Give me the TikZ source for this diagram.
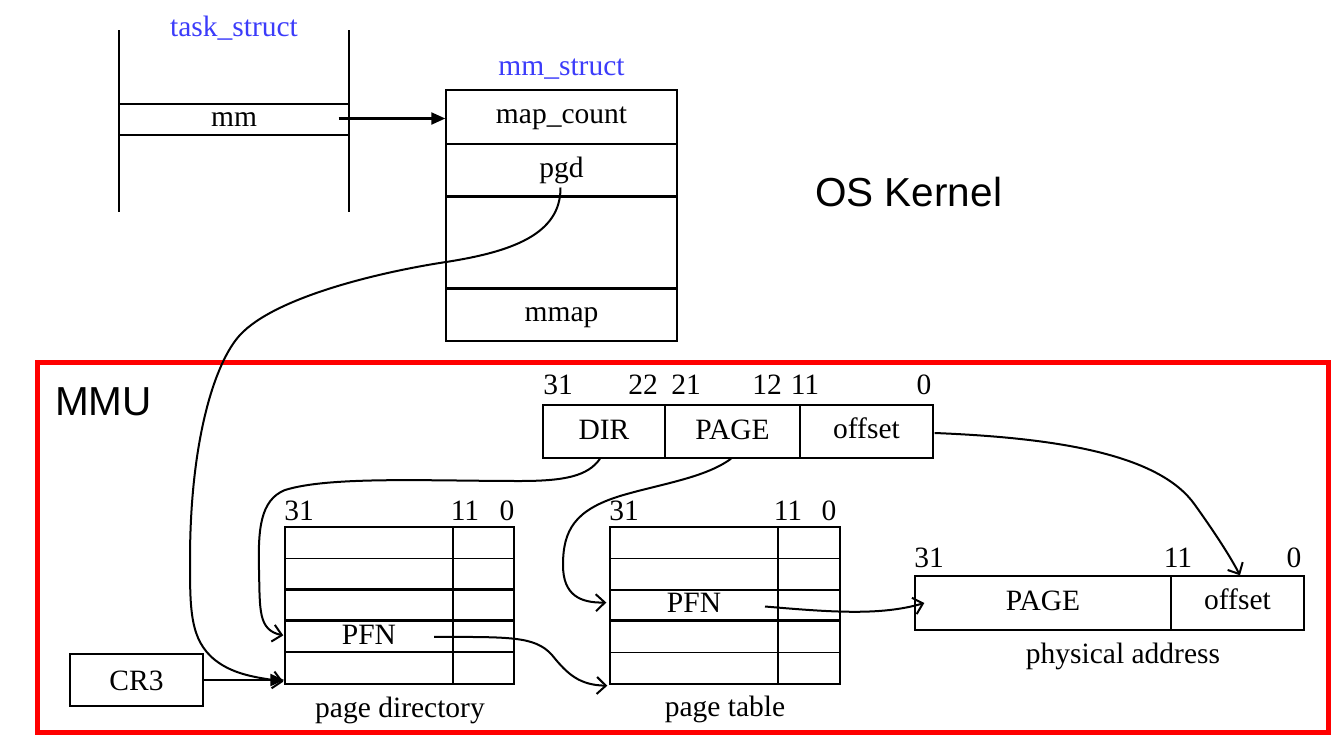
\documentclass[tikz,border=0pt]{standalone}
\usepackage{fontspec}
\setmainfont{Liberation Serif}
\newfontfamily\sansfam{Liberation Sans}
\usetikzlibrary{arrows.meta,calc}
\definecolor{lblblue}{RGB}{60,60,250}
\definecolor{mmured}{RGB}{255,0,0}
\begin{document}
\begin{tikzpicture}[x=1pt,y=-1pt,
  font=\fontsize{29.5}{34}\selectfont,
  box/.style={draw,line width=1.4pt,inner sep=0pt,text height=20pt,text depth=6.5pt},
  txt/.style={inner sep=0pt,text height=20pt,text depth=6.5pt},
  lbl/.style={anchor=base,inner sep=0pt},
  biglbl/.style={anchor=base west,inner sep=0pt,font=\sansfam\fontsize{40.5}{48}\selectfont},
  conn/.style={line width=2pt,-{Straight Barb[length=9pt,width=17pt,line width=2pt]}},
  fconn/.style={line width=2.2pt,-{Triangle[length=14pt,width=12pt]}},
  thickrule/.style={line width=2.6pt}]
\useasboundingbox (0,0) rectangle (1336,750);

% ---- task_struct
\node[lbl,text=lblblue] (tslbl) at (234,36) {task\_struct};
\node[box,minimum width=230pt,minimum height=31pt] (mm) at (234,119.5) {mm};
\draw[line width=1.4pt] (119,30) -- (119,212) (349,30) -- (349,212);

% ---- mm_struct
\node[lbl,text=lblblue] (mslbl) at (561.5,75) {mm\_struct};
\node[box,minimum width=231pt,minimum height=54pt] (mapcount) at (561.5,117) {map\_count};
\node[box,minimum width=231pt,minimum height=53pt] (pgd) at (561.5,170.5) {pgd};
\node[box,minimum width=231pt,minimum height=91pt] (blank) at (561.5,242.5) {};
\node[box,minimum width=231pt,minimum height=53pt] (mmap) at (561.5,314.5) {mmap};
\draw[thickrule] (blank.north west) -- (blank.north east) (blank.south west) -- (blank.south east);

\node[biglbl] (os) at (815,206) {OS Kernel};

% ---- MMU
\node[draw=mmured,line width=5pt,minimum width=1291pt,minimum height=370pt,inner sep=0pt] (mmubox) at (682.5,547) {};
\node[biglbl] (mmulbl) at (55,415) {MMU};

% virtual address
\node[box,minimum width=122pt,minimum height=53pt,text depth=4.5pt] (dir) at (604,431.5) {DIR};
\node[box,minimum width=135pt,minimum height=53pt,text depth=4.5pt] (vpage) at (732.5,431.5) {PAGE};
\node[box,minimum width=133pt,minimum height=53pt] (voff) at (866.5,431.5) {offset};
\node[lbl] (v31) at (558,394) {31};
\node[lbl] (v22) at (643,394) {22};
\node[lbl] (v21) at (686,394) {21};
\node[lbl] (v12) at (767,394) {12};
\node[lbl] (v11) at (805,394) {11};
\node[lbl] (v0) at (924,394) {0};

% page directory
\foreach \i in {1,...,5} {
  \node[box,minimum width=168pt,minimum height=31.4pt] (pdL\i) at (369,{527+31.4*(\i-0.5)}) {};
  \node[box,minimum width=61pt,minimum height=31.4pt] (pdR\i) at (483.5,{527+31.4*(\i-0.5)}) {};
}
\draw[thickrule] (pdL3.north west) -- (pdR3.north east)
                 (pdL4.north west) -- (pdR4.north east)
                 (pdL5.north west) -- (pdR5.north east);
\node[txt,text depth=5pt] (pdpfn) at (pdL4) {PFN};
\node[lbl] (pd31) at (299,520) {31};
\node[lbl] (pd11) at (465,520) {11};
\node[lbl] (pd0) at (507,520) {0};
\node[lbl] (pdlbl) at (400,717) {page directory};

% page table
\foreach \i in {1,...,5} {
  \node[box,minimum width=168pt,minimum height=31.4pt] (ptL\i) at (694,{527+31.4*(\i-0.5)}) {};
  \node[box,minimum width=62pt,minimum height=31.4pt] (ptR\i) at (809,{527+31.4*(\i-0.5)}) {};
}
\draw[thickrule] (ptL4.north west) -- (ptR4.north east);
\node[txt] (ptpfn) at (ptL3) {PFN};
\node[lbl] (pt31) at (624,520) {31};
\node[lbl] (pt11) at (788,520) {11};
\node[lbl] (pt0) at (829,520) {0};
\node[lbl] (ptlbl) at (725,716) {page table};

% physical address
\node[box,minimum width=256pt,minimum height=54pt,text depth=4.5pt] (papage) at (1043,603) {PAGE};
\node[box,minimum width=133pt,minimum height=54pt] (paoff) at (1237.5,603) {offset};
\node[lbl] (pa31) at (929,567) {31};
\node[lbl] (pa11) at (1178,567) {11};
\node[lbl] (pa0) at (1294,567) {0};
\node[lbl] (palbl) at (1123,663) {physical address};

% CR3
\node[box,minimum width=133pt,minimum height=52pt,text depth=0pt] (cr3) at (136.5,680) {CR3};

% ---- connectors
\coordinate (mmsrc) at ($(mm.east)+(-11,-1)$);
\draw[fconn] (mmsrc) -- (mmsrc -| mapcount.west);

\draw[fconn] (cr3) -- (cr3 -| pdL5.west);

\coordinate (pgdsrc) at ($(pgd.center)+(-1,17)$);
\coordinate (pdin) at ($(pdL5.south west)+(-1,-3)$);
\draw[conn] (pgdsrc) .. controls (561,235) and (510,252) .. (446,262)
  .. controls (380,272) and (275,297) .. (240,335)
  .. controls (215,362) and (190,440) .. (190,560)
  .. controls (190,610) and (190,640) .. (215,660)
  .. controls (235,676) and (262,678) .. (pdin);

\coordinate (dirsrc) at ($(dir.south)+(-4,0)$);
\coordinate (pdin2) at ($(pdL4.west)+(-1,-1.5)$);
\draw[conn] (dirsrc) .. controls (588,476) and (565,481) .. (520,481)
  .. controls (430,481) and (330,476) .. (285,490)
  .. controls (260,500) and (258,530) .. (259,570)
  .. controls (260,610) and (258,630) .. (pdin2);

\coordinate (pgsrc) at ($(vpage.south)+(-1.5,0)$);
\coordinate (ptin) at ($(ptL3.west)+(-3,-3)$);
\draw[conn] (pgsrc) .. controls (705,478) and (660,484) .. (620,496)
  .. controls (575,510) and (563,530) .. (563,565)
  .. controls (563,595) and (580,603) .. (ptin);

\coordinate (offsrc) at ($(voff.east)+(1,1.5)$);
\coordinate (offin) at ($(paoff.north)+(2.5,0)$);
\draw[conn] (offsrc) .. controls (1060,438) and (1160,455) .. (1195,505)
  .. controls (1220,540) and (1232,560) .. (offin);

\coordinate (pdpfnsrc) at ($(pdL4.center)+(65,0)$);
\coordinate (ptin2) at ($(ptL5.south west)+(-2,1)$);
\draw[conn] (pdpfnsrc) .. controls (510,637) and (535,636) .. (552,655)
  .. controls (568,675) and (580,685) .. (ptin2);

\coordinate (ptpfnsrc) at ($(ptL3.center)+(71,1)$);
\coordinate (pain) at ($(papage.west)+(10,0)$);
\draw[conn] (ptpfnsrc) .. controls (830,612) and (880,616) .. (pain);
\end{tikzpicture}
\end{document}
